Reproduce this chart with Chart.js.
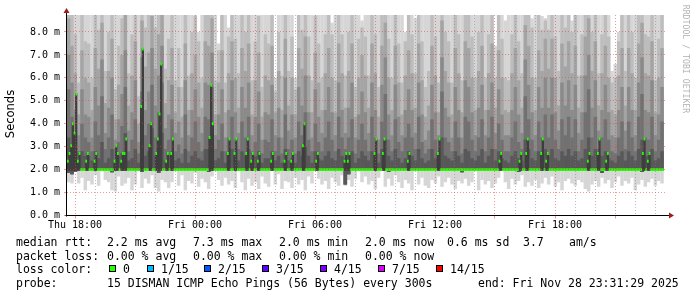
<!DOCTYPE html>
<html>
<head>
<meta charset="utf-8">
<script src="https://cdn.jsdelivr.net/npm/chart.js@4.4.1/dist/chart.umd.min.js"></script>
<style>
  body { margin: 0; background: #fff; }
  #wrap { position: relative; width: 697px; height: 297px; overflow: hidden;
          font-family: 'DejaVu Sans Mono', monospace; font-size: 11.5px; color: #000; }
  #chart { position: absolute; left: 0; top: 0; }
  .t { position: absolute; white-space: pre; line-height: 14px; }
  .box { position: absolute; top: 265px; width: 5px; height: 5px; border: 1px solid #000; }
  #unit { position: absolute; left: -20px; top: 107px; width: 60px; height: 14px; line-height: 14px;
          text-align: center; font-family: 'DejaVu Sans', sans-serif; font-size: 11.5px;
          transform: rotate(-90deg); }
  #mark { position: absolute; left: 626px; top: 54px; width: 120px; height: 10px; line-height: 10px;
          text-align: center; font-size: 8.2px; color: #b4b4b4; transform: rotate(90deg); }
</style>
</head>
<body>
<div id="wrap">
  <canvas id="chart" width="697" height="297"></canvas>
  <div id="unit">Seconds</div>
  <div id="mark">RRDTOOL / TOBI OETIKER</div>
  <div id="legend"></div>
</div>
<script>
// time axis: hours relative to Thu 18:00
const startHour = -0.4;
const endHour = 29.6;
const smokeStep = 1 / 6;    // 10 min columns for the smoke
const medianStep = 1 / 12;  // 5 min probe steps

const xLabelHours = [0, 6, 12, 18, 24];
const xLabels = ['Thu 18:00', 'Fri 00:00', 'Fri 06:00', 'Fri 12:00', 'Fri 18:00'];
const xTickHours = [0, 1, 2, 3, 4, 5, 6, 7, 8, 9, 10, 11, 12, 13, 14, 15, 16, 17, 18, 19,
  20, 21, 22, 23, 24, 25, 26, 27, 28, 29];
const yTickValues = [0, 0.5, 1, 1.5, 2, 2.5, 3, 3.5, 4, 4.5, 5, 5.5, 6, 6.5, 7, 7.5, 8, 8.5];

// smoke, ms per 10 min column (one row = one hour)
const minPing = [
  1.45, 1.40, 1.90, 1.40, 1.65, 1.10,
  1.50, 1.35, 1.75, 1.30, 1.97, 1.55,
  1.45, 1.10, 1.05, 1.70, 1.30, 1.40,
  1.65, 1.10, 1.35, 1.97, 1.20, 1.60,
  1.40, 1.75, 1.20, 1.05, 1.55, 1.45,
  1.20, 1.45, 1.97, 1.30, 1.75, 1.10,
  1.50, 1.40, 1.85, 1.25, 1.60, 1.45,
  1.15, 1.70, 1.97, 1.55, 1.30, 1.65,
  1.35, 1.50, 1.20, 1.97, 1.45, 1.10,
  1.60, 1.30, 1.45, 1.15, 1.70, 1.40,
  1.25, 1.97, 1.35, 1.80, 1.15, 1.50,
  1.45, 1.20, 1.65, 1.35, 1.55, 1.10,
  1.70, 1.40, 1.97, 1.60, 1.35, 1.50,
  1.15, 1.65, 1.45, 1.30, 1.75, 1.30,
  1.55, 1.25, 1.60, 1.97, 1.45, 1.70,
  1.35, 1.50, 1.15, 1.65, 1.97, 1.25,
  1.60, 1.30, 1.75, 1.45, 1.20, 1.55,
  1.40, 1.10, 1.97, 1.35, 1.65, 1.30,
  1.20, 1.55, 1.40, 1.70, 1.25, 1.45,
  1.65, 1.35, 1.15, 1.50, 1.40, 1.60,
  1.30, 1.45, 1.97, 1.10, 1.55, 1.35,
  1.50, 1.20, 1.40, 1.65, 1.97, 1.45,
  1.15, 1.60, 1.35, 1.50, 1.75, 1.25,
  1.45, 1.30, 1.55, 1.20, 1.40, 1.65,
  1.35, 1.70, 1.25, 1.45, 1.10, 1.50,
  1.60, 1.40, 1.30, 1.55, 1.45, 1.15,
  1.05, 1.35, 1.50, 1.25, 1.65, 1.40,
  1.55, 1.20, 1.45, 1.70, 1.30, 1.50,
  1.40, 1.65, 1.10, 1.35, 1.55, 1.25,
  1.45, 1.60, 1.30, 1.50, 1.40
];
const p2 = [
  1.85, 1.80, 1.90, 1.97, 1.97, 1.97,
  1.97, 1.97, 1.97, 1.97, 1.97, 1.97,
  1.97, 1.88, 1.97, 1.97, 1.97, 1.97,
  1.97, 1.97, 1.97, 1.97, 1.90, 1.97,
  1.97, 1.97, 1.97, 1.85, 1.97, 1.97,
  1.97, 1.97, 1.97, 1.97, 1.97, 1.97,
  1.97, 1.97, 1.97, 1.97, 1.97, 1.97,
  1.90, 1.97, 1.97, 1.97, 1.97, 1.97,
  1.97, 1.97, 1.97, 1.97, 1.97, 1.97,
  1.97, 1.97, 1.97, 1.97, 1.97, 1.97,
  1.97, 1.97, 1.97, 1.97, 1.97, 1.97,
  1.97, 1.97, 1.97, 1.97, 1.97, 1.97,
  1.97, 1.97, 1.97, 1.97, 1.97, 1.97,
  1.97, 1.97, 1.97, 1.97, 1.97, 1.35,
  1.80, 1.97, 1.97, 1.97, 1.97, 1.97,
  1.97, 1.97, 1.97, 1.97, 1.97, 1.97,
  1.90, 1.97, 1.97, 1.97, 1.97, 1.97,
  1.97, 1.97, 1.97, 1.97, 1.97, 1.97,
  1.97, 1.97, 1.97, 1.97, 1.97, 1.97,
  1.97, 1.97, 1.97, 1.97, 1.88, 1.97,
  1.97, 1.97, 1.97, 1.97, 1.97, 1.97,
  1.97, 1.97, 1.97, 1.97, 1.97, 1.97,
  1.97, 1.97, 1.97, 1.90, 1.97, 1.97,
  1.97, 1.97, 1.97, 1.97, 1.97, 1.97,
  1.97, 1.97, 1.97, 1.97, 1.97, 1.97,
  1.97, 1.97, 1.97, 1.97, 1.97, 1.97,
  1.97, 1.97, 1.97, 1.97, 1.85, 1.97,
  1.97, 1.97, 1.97, 1.97, 1.97, 1.97,
  1.97, 1.97, 1.97, 1.97, 1.90, 1.97,
  1.97, 1.97, 1.97, 1.97, 1.97
];
const p10 = [
  3.4, 2.9, 2.6, 2.4, 2.8, 2.6,
  2.6, 2.4, 2.8, 2.5, 3.2, 2.3,
  2.5, 2.9, 2.4, 2.6, 2.7, 3.6,
  2.4, 2.5, 2.9, 2.3, 3.5, 2.6,
  2.8, 3.8, 2.6, 3.0, 3.6, 2.4,
  2.6, 2.8, 2.4, 2.5, 2.3, 2.9,
  2.3, 2.6, 2.8, 2.5, 2.4, 2.9,
  2.9, 3.7, 2.4, 2.5, 2.8, 2.3,
  2.6, 2.9, 2.5, 2.4, 2.8, 2.6,
  2.9, 2.4, 2.6, 2.8, 2.3, 2.5,
  2.5, 2.8, 2.4, 2.6, 2.3, 2.9,
  2.4, 2.5, 2.3, 2.8, 2.6, 3.0,
  2.6, 2.3, 2.8, 2.5, 2.4, 2.6,
  2.8, 2.5, 2.4, 2.9, 2.6, 2.5,
  2.6, 2.8, 2.3, 2.5, 2.8, 2.6,
  2.4, 2.8, 2.6, 2.3, 2.9, 3.3,
  2.6, 2.4, 2.9, 2.5, 2.3, 2.5,
  2.8, 2.6, 2.4, 2.9, 2.5, 2.3,
  2.4, 2.9, 2.5, 2.3, 3.4, 2.6,
  2.5, 2.4, 2.8, 2.6, 2.3, 2.9,
  2.8, 2.5, 2.4, 2.6, 2.9, 2.3,
  2.6, 2.9, 2.4, 2.8, 2.5, 2.4,
  2.3, 2.6, 2.8, 2.5, 2.4, 3.3,
  2.9, 2.5, 2.4, 2.8, 2.6, 2.9,
  2.6, 2.9, 2.5, 2.4, 2.8, 2.6,
  2.9, 2.6, 2.8, 2.4, 2.5, 2.9,
  3.4, 2.6, 2.9, 2.4, 2.6, 2.8,
  2.5, 2.4, 2.3, 2.6, 2.8, 2.4,
  2.8, 2.6, 2.4, 2.9, 3.3, 2.6,
  2.6, 2.9, 2.4, 2.5, 2.8
];
const p11 = [
  5.5, 4.3, 3.3, 2.8, 4.0, 3.4,
  3.2, 2.8, 4.1, 3.5, 5.2, 2.9,
  3.4, 4.4, 2.9, 3.2, 3.9, 5.6,
  2.8, 3.3, 4.2, 2.7, 5.4, 3.5,
  4.0, 5.7, 3.4, 4.5, 5.8, 2.9,
  3.3, 4.2, 2.8, 3.1, 2.7, 4.4,
  2.8, 3.4, 4.1, 3.2, 2.8, 4.3,
  4.2, 5.6, 2.9, 3.3, 4.0, 2.8,
  3.4, 4.3, 3.3, 2.9, 4.1, 3.4,
  4.3, 2.8, 3.2, 4.0, 2.7, 3.3,
  3.2, 4.2, 2.8, 3.4, 2.7, 4.4,
  2.9, 3.3, 2.7, 4.1, 3.5, 4.5,
  3.3, 2.8, 4.0, 3.2, 2.8, 3.4,
  4.1, 3.3, 2.8, 4.3, 3.4, 2.9,
  3.4, 4.2, 2.7, 3.3, 4.0, 3.3,
  2.8, 4.3, 3.4, 2.7, 4.1, 5.3,
  3.3, 2.8, 4.2, 3.2, 2.8, 3.4,
  4.0, 3.4, 2.9, 4.3, 3.2, 2.7,
  2.9, 4.2, 3.3, 2.8, 5.4, 3.4,
  3.2, 2.8, 4.1, 3.4, 2.7, 4.3,
  4.1, 3.3, 2.8, 3.4, 4.2, 2.8,
  3.4, 4.3, 2.9, 4.0, 3.3, 2.8,
  2.8, 3.4, 4.1, 3.2, 2.9, 5.2,
  4.2, 3.3, 2.8, 4.1, 3.4, 4.4,
  3.4, 4.4, 3.3, 2.9, 4.2, 3.5,
  4.3, 3.4, 4.2, 2.8, 3.3, 4.5,
  5.5, 3.4, 4.3, 2.9, 3.4, 4.2,
  3.3, 2.8, 2.7, 3.4, 4.1, 2.9,
  4.1, 3.4, 2.8, 4.3, 5.3, 3.4,
  3.3, 4.3, 2.8, 3.3, 4.1
];
const p12 = [
  7.0, 5.8, 4.6, 3.5, 5.5, 4.4,
  4.3, 3.4, 5.6, 4.8, 6.8, 3.6,
  4.7, 6.0, 3.3, 4.2, 5.3, 7.2,
  3.7, 4.5, 5.9, 3.2, 6.9, 4.6,
  5.4, 7.3, 4.8, 6.1, 7.4, 3.8,
  4.4, 5.7, 3.6, 4.1, 3.4, 5.9,
  3.5, 4.6, 5.5, 4.3, 3.6, 5.8,
  5.7, 7.1, 3.5, 4.4, 5.5, 3.4,
  4.6, 5.9, 4.5, 3.6, 5.6, 4.7,
  5.8, 3.5, 4.3, 5.4, 3.3, 4.5,
  4.4, 5.7, 3.5, 4.7, 3.4, 6.0,
  3.7, 4.4, 3.4, 5.6, 4.8, 6.1,
  4.5, 3.4, 5.5, 4.3, 3.6, 4.6,
  5.6, 4.5, 3.5, 5.8, 4.6, 3.6,
  4.7, 5.8, 3.4, 4.4, 5.4, 4.5,
  3.6, 5.8, 4.6, 3.3, 5.7, 6.9,
  4.4, 3.5, 5.7, 4.3, 3.5, 4.6,
  5.5, 4.6, 3.6, 5.8, 4.4, 3.3,
  3.7, 5.7, 4.5, 3.5, 6.9, 4.7,
  4.3, 3.4, 5.6, 4.6, 3.4, 5.9,
  5.6, 4.5, 3.5, 4.7, 5.7, 3.5,
  4.6, 5.8, 3.6, 5.5, 4.4, 3.5,
  3.5, 4.6, 5.6, 4.4, 3.6, 6.8,
  5.7, 4.5, 3.5, 5.6, 4.7, 6.0,
  4.7, 6.0, 4.5, 3.7, 5.8, 4.8,
  5.9, 4.6, 5.7, 3.6, 4.5, 6.1,
  7.0, 4.7, 5.9, 3.7, 4.6, 5.7,
  4.5, 3.5, 3.4, 4.6, 5.6, 3.7,
  5.6, 4.6, 3.5, 5.8, 6.9, 4.6,
  4.5, 5.9, 3.5, 4.4, 5.6
];
const p13 = [
  8.6, 7.4, 6.2, 4.4, 7.2, 6.0,
  5.8, 4.6, 7.3, 6.4, 8.4, 4.9,
  6.3, 7.7, 4.2, 5.7, 7.0, 8.8,
  4.8, 6.1, 7.6, 4.0, 8.5, 6.5,
  7.1, 8.7, 6.4, 7.9, 8.9, 4.9,
  5.9, 7.3, 4.5, 5.6, 4.3, 7.5,
  4.6, 6.2, 7.0, 5.8, 4.7, 7.6,
  7.4, 8.6, 4.4, 5.8, 7.2, 4.5,
  6.2, 7.6, 6.0, 4.7, 7.3, 6.3,
  7.5, 4.4, 5.9, 7.1, 4.3, 6.1,
  5.9, 7.4, 4.5, 6.3, 4.6, 7.7,
  4.8, 6.0, 4.4, 7.3, 6.4, 7.8,
  6.1, 4.5, 7.1, 5.8, 4.6, 6.2,
  7.3, 6.0, 4.5, 7.5, 6.2, 4.7,
  6.3, 7.5, 4.3, 6.0, 7.0, 6.1,
  4.7, 7.5, 6.2, 4.3, 7.4, 8.4,
  6.0, 4.6, 7.4, 5.8, 4.4, 6.1,
  7.2, 6.2, 4.7, 7.5, 5.9, 4.3,
  4.8, 7.4, 6.1, 4.5, 8.5, 6.3,
  5.8, 4.4, 7.3, 6.2, 4.5, 7.6,
  7.3, 6.0, 4.6, 6.3, 7.4, 4.6,
  6.2, 7.5, 4.7, 7.2, 6.0, 4.6,
  4.5, 6.2, 7.3, 5.9, 4.7, 8.3,
  7.4, 6.0, 4.6, 7.2, 6.3, 7.7,
  6.4, 7.7, 6.0, 4.8, 7.5, 6.5,
  7.6, 6.2, 7.4, 4.7, 6.1, 7.8,
  8.6, 6.3, 7.6, 4.8, 6.2, 7.4,
  6.0, 4.6, 4.4, 6.1, 7.3, 4.8,
  7.3, 6.2, 4.6, 7.5, 8.4, 6.2,
  6.1, 7.6, 4.5, 6.0, 7.3
];
const p14 = [
  9, 9, 7.9, 5.8, 8.8, 7.6,
  7.5, 6.0, 9, 8.1, 9, 6.3,
  8.0, 9, 5.5, 7.4, 8.6, 9,
  6.2, 7.9, 9, 5.2, 9, 8.2,
  8.8, 9, 8.2, 9, 9, 6.4,
  7.7, 8.9, 5.9, 7.3, 5.6, 9,
  6.1, 8.0, 8.7, 7.6, 6.0, 9,
  9, 9, 5.9, 7.2, 8.8, 5.8,
  7.8, 9, 7.7, 6.2, 8.9, 8.0,
  9, 5.9, 7.6, 8.7, 5.6, 7.9,
  7.5, 8.9, 5.4, 8.0, 6.1, 9,
  6.3, 7.8, 5.5, 8.8, 8.1, 9,
  7.8, 5.9, 8.7, 7.5, 6.0, 7.9,
  8.9, 7.9, 5.9, 9, 7.9, 6.1,
  8.0, 9, 5.6, 7.7, 8.2, 7.8,
  6.1, 9, 7.9, 5.6, 8.9, 9,
  7.7, 6.0, 9, 7.5, 5.8, 7.6,
  8.8, 7.9, 6.2, 9, 7.6, 5.6,
  6.3, 9, 7.8, 5.8, 9, 8.0,
  7.6, 5.8, 8.9, 7.9, 5.9, 9,
  8.9, 7.8, 6.0, 8.0, 9, 6.0,
  7.9, 9, 6.0, 8.8, 7.7, 6.0,
  5.9, 7.9, 8.9, 7.6, 6.2, 9,
  9, 8.2, 6.0, 8.8, 8.1, 8.5,
  8.1, 9, 7.8, 6.3, 9, 8.2,
  9, 8.0, 9, 6.1, 7.9, 9,
  9, 8.0, 9, 6.2, 7.9, 9,
  7.8, 5.8, 6.0, 7.6, 8.9, 6.3,
  8.9, 8.0, 6.0, 9, 9, 7.9,
  7.8, 9, 5.9, 7.7, 8.9
];
const maxPing = [
  9, 9, 9, 9, 9, 9,
  9, 9, 9, 9, 9, 9,
  9, 9, 9, 9, 9, 9,
  9, 9, 9, 9, 9, 9,
  9, 9, 9, 9, 9, 9,
  9, 9, 9, 9, 9, 9,
  9, 9, 9, 8.0, 9, 9,
  9, 9, 9, 7.5, 9, 9,
  8.2, 9, 9, 9, 9, 9,
  9, 9, 9, 9, 9, 9,
  9, 9, 6.0, 9, 9, 9,
  9, 9, 6.0, 9, 9, 9,
  9, 9, 9, 9, 9, 9,
  9, 8.4, 9, 9, 9, 9,
  9, 9, 9, 9, 8.5, 9,
  9, 9, 9, 9, 9, 9,
  9, 9, 9, 9, 9, 8.0,
  9, 9, 8.6, 9, 9, 9,
  9, 9, 9, 9, 9, 9,
  9, 9, 9, 9, 9, 9,
  9, 9, 9, 9, 9, 9,
  9, 9, 7.4, 9, 9, 8.5,
  9, 9, 9, 9, 9, 9,
  9, 8.6, 9, 9, 8.7, 8.6,
  9, 9, 9, 9, 9, 9,
  9, 8.5, 9, 9, 9, 9,
  9, 9, 9, 9, 9, 9,
  9, 6.3, 6.6, 8.0, 9, 9,
  9, 9, 9, 9, 9, 9,
  9, 9, 9, 9, 9
];

// median rtt per 5 min step, ms (one row = one hour)
const median = [
  2.36, 2.7, 3.04, 4.0, 3.6, 5.3, 2.36, 2.7, 2, 2, 2, 2.36,
  2.7, 2, 2, 2, 2.36, 2.7, 2, 2, 2, 2, 2, 2,
  2, 2, 2, 2, 2.36, 3.04, 2.7, 2, 2.36, 2.7, 2.7, 3.33,
  2, 2, 2, 2, 2, 2, 2, 2, 4.75, 7.26, 2, 2,
  2, 3.04, 4.0, 2, 2, 2.7, 3.33, 4.42, 6.6, 2, 2, 2.36,
  2.7, 2, 2.7, 3.33, 2, 2, 2, 2, 2, 2, 2, 2,
  2, 2, 2, 2, 2, 2, 2, 2, 2, 2, 2, 2,
  2, 3.4, 5.68, 4.0, 2, 2, 2, 2, 2, 2, 2, 2,
  2.7, 3.33, 2, 2, 2.7, 3.33, 2, 2, 2, 2, 2, 2.7,
  3.33, 2, 2.36, 2.7, 2, 2, 2.36, 2.7, 2, 2, 2, 2,
  2, 2, 2.36, 2.7, 2, 2, 2, 2, 2, 2, 2.36, 2.7,
  2, 2, 2.36, 2.7, 2, 2, 2, 2, 2, 3.04, 4.0, 2,
  2, 2, 2, 2, 2, 2.36, 2.7, 2, 2, 2, 2, 2,
  2, 2, 2, 2, 2, 2, 2, 2, 2, 2, 2.36, 2.7,
  2.36, 2.7, 2, 2, 2, 2, 2, 2, 2, 2, 2, 2,
  2, 2, 2, 2, 2.7, 3.33, 2, 2, 2, 2.7, 3.33, 2,
  2, 2, 2, 2, 2, 2, 2, 2, 2, 2, 2, 2,
  2.36, 2.7, 2, 2, 2, 2, 2, 2, 2, 2, 2, 2,
  2, 2, 2, 2, 2, 2, 2.7, 3.33, 2, 2, 2, 2,
  2, 2, 2, 2, 2, 2, 2, 2, 2, 2, 2, 2,
  2, 2, 2, 2, 2, 2, 2, 2, 2, 2, 2, 2,
  2, 2, 2, 2, 2, 2, 2, 2.36, 2.7, 2, 2, 2,
  2, 2, 2, 2, 2, 2, 2, 2.36, 2.7, 2, 2, 2.7,
  3.33, 2, 2, 2, 2, 2, 2, 2, 2.7, 3.33, 2, 2.36,
  2.7, 2, 2, 2, 2, 2, 2, 2, 2, 2, 2, 2,
  2, 2, 2, 2, 2, 2, 2, 2, 2, 2, 2, 2,
  2.36, 2.7, 2, 2, 2, 2, 2.7, 3.33, 2, 2, 2, 2.36,
  2.7, 2, 2, 2, 2, 2, 2, 2, 2, 2, 2, 2,
  2, 2, 2, 2, 2, 2, 2, 2, 2, 2.7, 3.33, 2,
  2.36, 2.7, 2, 2, 2, 2, 2, 2, 2, 2
];

const lossLabels = ['0', '1/15', '2/15', '3/15', '4/15', '7/15', '14/15'];
const lossColors = ['#26ff00', '#00b8ff', '#0059ff', '#5e00ff', '#7e00ff', '#dd00ff', '#ff0000'];

const statsRows = [
  ['median rtt:', '2.2 ms avg', '7.3 ms max', '2.0 ms min', '2.0 ms now', '0.6 ms sd', '3.7', 'am/s'],
  ['packet loss:', '0.00 % avg', '0.00 % max', '0.00 % min', '0.00 % now']
];
const probeText = ['probe:', '15 DISMAN ICMP Echo Pings (56 Bytes) every 300s', 'end: Fri Nov 28 23:31:29 2025'];

// legend text
const legend = document.getElementById('legend');
function addText(txt, x, y) {
  const d = document.createElement('div');
  d.className = 't';
  d.style.left = x + 'px';
  d.style.top = y + 'px';
  d.textContent = txt;
  legend.appendChild(d);
}
const row1X = [16, 107, 193, 279, 365, 447, 523, 569];
const row2X = [16, 107, 193, 279, 365];
statsRows[0].forEach((s, i) => addText(s, row1X[i], 235));
statsRows[1].forEach((s, i) => addText(s, row2X[i], 248.5));
addText('loss color:', 16, 262);
const boxX = [109, 147, 204, 262, 320, 378, 436];
lossLabels.forEach((l, i) => {
  const b = document.createElement('div');
  b.className = 'box';
  b.style.left = boxX[i] + 'px';
  b.style.background = lossColors[i];
  legend.appendChild(b);
  addText(l, boxX[i] + 14, 262);
});
addText(probeText[0], 16, 275.5);
addText(probeText[1], 107, 275.5);
addText(probeText[2], 478, 275.5);

// datasets
const smokeX = minPing.map((_, i) => startHour + (i + 0.5) * smokeStep);
const medX = median.map((_, j) => startHour + (j + 0.5) * medianStep);

const bands = [
  { lo: minPing, hi: maxPing, color: '#d6d6d6' },
  { lo: p2, hi: p14, color: '#bdbdbd' },
  { lo: p2, hi: p13, color: '#a4a4a4' },
  { lo: p2, hi: p12, color: '#8a8a8a' },
  { lo: p2, hi: p11, color: '#717171' },
  { lo: p2, hi: p10, color: '#585858' }
];

const datasets = bands.map((b, k) => ({
  xAxisID: 'x',
  order: 10 - k,
  data: smokeX.map((x, i) => ({ x: x, y: [b.lo[i], b.hi[i]] })),
  backgroundColor: b.color,
  borderWidth: 0,
  grouped: false,
  categoryPercentage: 1,
  barPercentage: 1.04
}));

// dark core under each median step above the floor
datasets.push({
  xAxisID: 'xm',
  order: 2,
  data: median.map((m, j) => m > 2 ? { x: medX[j], y: [1.97, m] } : null).filter(Boolean),
  backgroundColor: '#3e3e3e',
  borderWidth: 0,
  grouped: false,
  categoryPercentage: 1,
  barPercentage: 1
});

// median, coloured by loss (all 0 here)
datasets.push({
  xAxisID: 'xm',
  order: 1,
  data: median.map((m, j) => ({ x: medX[j], y: [m - 0.065, m + 0.065] })),
  backgroundColor: lossColors[0],
  borderWidth: 0,
  grouped: false,
  categoryPercentage: 1,
  barPercentage: 1.06
});

const majorGrid = 'rgba(220, 70, 70, 0.55)';
const minorGrid = 'rgba(130, 130, 130, 0.5)';

const axisArrows = {
  id: 'axisArrows',
  afterDraw(chart) {
    const { ctx, chartArea: a } = chart;
    const y0 = Math.round(a.bottom) - 0.5;
    const x0 = Math.round(a.left) - 0.5;
    ctx.save();
    ctx.strokeStyle = '#000';
    ctx.lineWidth = 1;
    ctx.beginPath();
    ctx.moveTo(x0 - 1, y0);
    ctx.lineTo(a.right + 2, y0);
    ctx.moveTo(x0, y0 + 1);
    ctx.lineTo(x0, a.top - 3);
    ctx.stroke();
    ctx.fillStyle = '#9c1c1c';
    ctx.beginPath();
    ctx.moveTo(a.right + 2, y0 - 3);
    ctx.lineTo(a.right + 7, y0);
    ctx.lineTo(a.right + 2, y0 + 3);
    ctx.closePath();
    ctx.fill();
    ctx.beginPath();
    ctx.moveTo(x0 - 3, a.top - 2);
    ctx.lineTo(x0, a.top - 7);
    ctx.lineTo(x0 + 3, a.top - 2);
    ctx.closePath();
    ctx.fill();
    ctx.restore();
  }
};

new Chart(document.getElementById('chart'), {
  type: 'bar',
  data: { datasets: datasets },
  plugins: [axisArrows],
  options: {
    responsive: false,
    animation: false,
    devicePixelRatio: 1,
    layout: { padding: { left: 0, right: 30, top: 15, bottom: 0 } },
    plugins: { legend: { display: false }, tooltip: { enabled: false } },
    scales: {
      x: {
        type: 'linear',
        min: startHour,
        max: endHour,
        offset: false,
        afterBuildTicks: s => { s.ticks = xTickHours.map(v => ({ value: v })); },
        afterFit: s => { s.height = 81.5; },
        grid: {
          z: 1,
          offset: false,
          lineWidth: 1,
          tickLength: 3,
          color: c => (c.tick && c.tick.value % 3 === 0) ? majorGrid : minorGrid,
          tickColor: c => (c.tick && c.tick.value % 3 === 0) ? majorGrid : 'rgba(0,0,0,0)'
        },
        border: { display: false, dash: [1, 2] },
        ticks: {
          autoSkip: false,
          maxRotation: 0,
          padding: 1,
          color: '#000',
          font: { family: 'DejaVu Sans Mono', size: 10 },
          callback: v => {
            const k = xLabelHours.indexOf(v);
            return k >= 0 ? xLabels[k] : '';
          }
        }
      },
      xm: { type: 'linear', min: startHour, max: endHour, offset: false, grid: { offset: false }, display: false },
      y: {
        min: 0,
        max: 8.74,
        afterBuildTicks: s => { s.ticks = yTickValues.map(v => ({ value: v })); },
        afterFit: s => { s.width = 67; },
        grid: {
          z: 1,
          lineWidth: 1,
          tickLength: 3,
          color: c => (c.tick && Number.isInteger(c.tick.value)) ? majorGrid : minorGrid,
          tickColor: c => (c.tick && Number.isInteger(c.tick.value)) ? majorGrid : 'rgba(0,0,0,0)'
        },
        border: { display: false, dash: [1, 2] },
        ticks: {
          padding: 4,
          color: '#000',
          font: { family: 'DejaVu Sans Mono', size: 10 },
          callback: v => Number.isInteger(v) ? v.toFixed(1) + ' m' : ''
        }
      }
    }
  }
});
</script>
</body>
</html>
